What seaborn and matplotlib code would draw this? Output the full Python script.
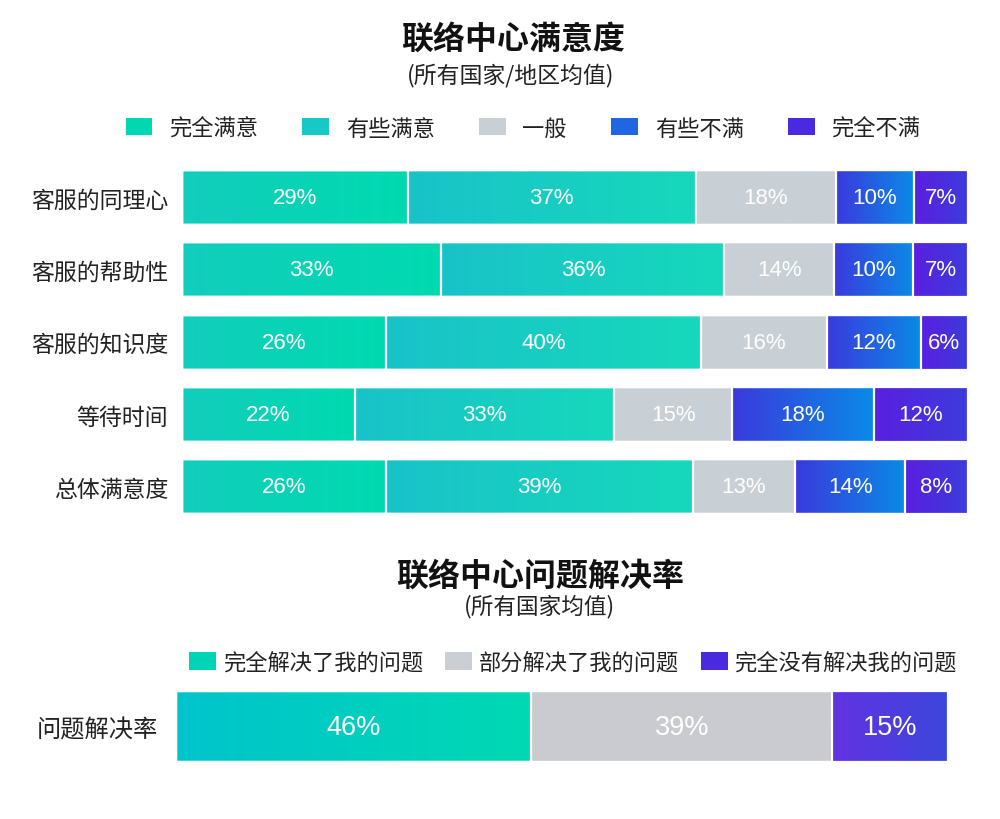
import numpy as np
import pandas as pd
import matplotlib
matplotlib.use("Agg")
import matplotlib.pyplot as plt
import seaborn as sns
from matplotlib import font_manager
from matplotlib.colors import to_rgb
from matplotlib.patches import Patch

# --- data: contact centre satisfaction (all countries / regions) ---
items = ["客服的同理心", "客服的帮助性", "客服的知识度", "等待时间", "总体满意度"]
levels = ["完全满意", "有些满意", "一般", "有些不满", "完全不满"]
very_sat = [29, 33, 26, 22, 26]
some_sat = [37, 36, 40, 33, 39]
neutral = [18, 14, 16, 15, 13]
some_dis = [10, 10, 12, 18, 14]
very_dis = [7, 7, 6, 12, 8]

# --- data: issue resolution rate (all countries) ---
res_item = ["问题解决率"]
res_levels = ["完全解决了我的问题", "部分解决了我的问题", "完全没有解决我的问题"]
res_full = [46]
res_part = [39]
res_none = [15]

# gradient colours (left, right) per segment
sat_colors = [("#12cdbc", "#00dab0"), ("#19c3c9", "#16d8bb"), ("#c8d0d6", "#c8d0d6"),
              ("#3a3ade", "#0a8ae6"), ("#5a1fe0", "#3c3cdc")]
sat_legend = ["#00d8b4", "#16c8c6", "#c8d0d6", "#1f66e2", "#4a2ae0"]
res_colors = [("#00c4cc", "#00d9b3"), ("#c9cbd0", "#c9cbd0"), ("#6233e2", "#3c46dc")]
res_legend = ["#00d4b6", "#c9cfd5", "#4a2ae0"]

sns.set_theme(style="white")
plt.rcParams["font.family"] = ["Noto Sans CJK SC", "DejaVu Sans"]
names = {f.name for f in font_manager.fontManager.ttflist}
num_font = "Liberation Sans Narrow" if "Liberation Sans Narrow" in names else "Liberation Sans"


def gradient(c0, c1, n=64):
    a, b = np.array(to_rgb(c0)), np.array(to_rgb(c1))
    t = np.linspace(0, 1, n)[:, None]
    return (a + (b - a) * t)[None, :, :]


def stacked(ax, df, cats, colors, bar_w, fs, label_fs, pad):
    # normalise each row to 100 for drawing, keep raw numbers for labels
    norm = df[cats].div(df[cats].sum(axis=1), axis=0) * 100
    cum = norm.cumsum(axis=1)
    order = list(df["item"])
    layers = {}
    for cat in reversed(cats):
        n0 = len(ax.patches)
        sns.barplot(x=cum[cat], y=df["item"], order=order, orient="h",
                    color="white", width=bar_w, ax=ax)
        layers[cat] = ax.patches[n0:]
    for k, cat in enumerate(cats):
        for i, p in enumerate(layers[cat]):
            x1 = cum[cat].iloc[i]
            x0 = 0 if k == 0 else cum[cats[k - 1]].iloc[i]
            y0, h = p.get_y(), p.get_height()
            ax.imshow(gradient(*colors[k]), extent=(x0, x1, y0 + h, y0), aspect="auto",
                      interpolation="bilinear", zorder=1)
            p.set_facecolor("none")
            p.set_edgecolor("white")
            p.set_linewidth(1.6)
            p.set_zorder(2)
            p.set_clip_on(False)
            ax.text((x0 + x1) / 2, y0 + h / 2, f"{df[cat].iloc[i]}%", color="white",
                    ha="center", va="center", fontsize=fs, family=num_font, zorder=3)
    ax.set_xlim(0, 100)
    ax.set_ylim(len(order) - 0.5, -0.5)
    ax.set_xlabel("")
    ax.set_ylabel("")
    ax.set_xticks([])
    ax.tick_params(axis="y", length=0, pad=pad, labelsize=label_fs, labelcolor="#222222")
    sns.despine(ax=ax, left=True, bottom=True)


fig = plt.figure(figsize=(10, 8.2), dpi=100)

sat = pd.DataFrame({"item": items, "完全满意": very_sat, "有些满意": some_sat,
                    "一般": neutral, "有些不满": some_dis, "完全不满": very_dis})
ax1 = fig.add_axes([0.182, 0.361, 0.786, 0.441])
stacked(ax1, sat, levels, sat_colors, 0.76, 16, 16.5, 10)

res = pd.DataFrame({"item": res_item, res_levels[0]: res_full,
                    res_levels[1]: res_part, res_levels[2]: res_none})
ax2 = fig.add_axes([0.176, 0.0646, 0.772, 0.0963])
stacked(ax2, res, res_levels, res_colors, 0.9, 19.5, 17.5, 13)

# titles
fig.text(0.513, 1 - 40 / 820, "联络中心满意度", ha="center", va="center",
         fontsize=23, fontweight="bold", color="#111111")
fig.text(0.511, 1 - 75 / 820, "(所有国家/地区均值)", ha="center", va="center",
         fontsize=16.5, color="#222222")
fig.text(0.540, 1 - 577 / 820, "联络中心问题解决率", ha="center", va="center",
         fontsize=23, fontweight="bold", color="#111111")
fig.text(0.540, 1 - 607 / 820, "(所有国家均值)", ha="center", va="center",
         fontsize=16.3, color="#222222")

# legends
h1 = [Patch(facecolor=c, edgecolor="none") for c in sat_legend]
fig.legend(h1, levels, loc="center", bbox_to_anchor=(0.523, 1 - 129 / 820), ncol=5,
           frameon=False, fontsize=16, handlelength=1.2, handleheight=0.8,
           handletextpad=0.75, columnspacing=2.0, labelcolor="#222222")
h2 = [Patch(facecolor=c, edgecolor="none") for c in res_legend]
fig.legend(h2, res_levels, loc="center", bbox_to_anchor=(0.573, 1 - 663 / 820), ncol=3,
           frameon=False, fontsize=16, handlelength=1.2, handleheight=0.85,
           handletextpad=0.3, columnspacing=1.0, labelcolor="#222222")

fig.savefig("out.png", dpi=100)
